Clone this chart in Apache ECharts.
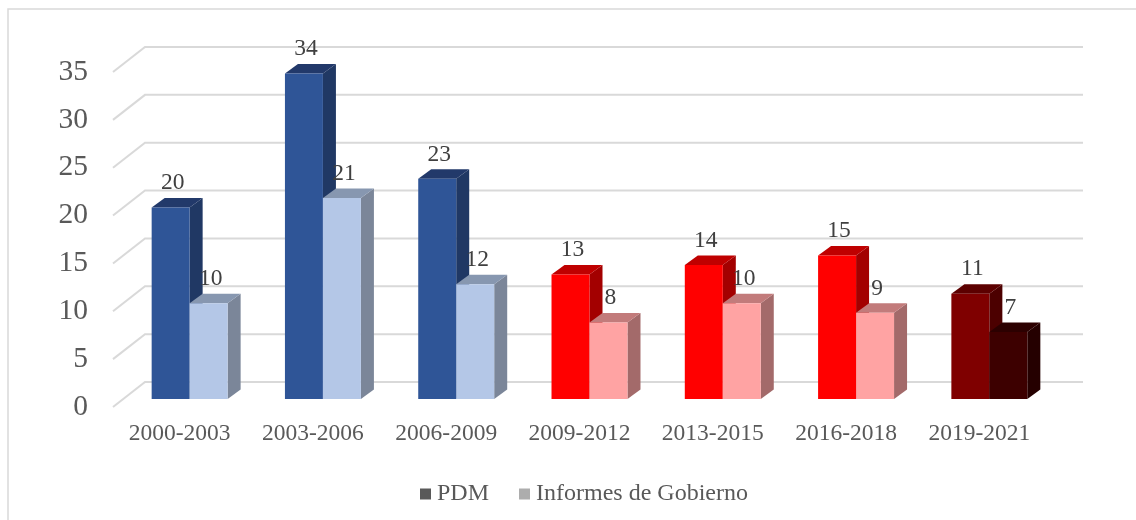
<!DOCTYPE html>
<html>
<head>
<meta charset="utf-8">
<script src="https://cdn.jsdelivr.net/npm/echarts@6/dist/echarts.min.js"></script>
<style>
  html, body { margin: 0; padding: 0; background: #fff; }
  #chart { width: 1136px; height: 520px; }
</style>
</head>
<body>
<div id="chart"></div>
<script>
// datos
const periods = ['2000-2003', '2003-2006', '2006-2009', '2009-2012', '2013-2015', '2016-2018', '2019-2021']
const pdm = [20, 34, 23, 13, 14, 15, 11]
const informes = [10, 21, 12, 8, 10, 9, 7]
const yTicks = [0, 5, 10, 15, 20, 25, 30, 35]

// colores por barra: [frente, lado, arriba]
const blue = ['#2F5597', '#203864', '#22396A']
const lightBlue = ['#B4C7E7', '#7B8699', '#8797B0']
const red = ['#FF0000', '#A30000', '#BF0000']
const pink = ['#FFA3A3', '#A36A6A', '#C27B7B']
const darkRed = ['#7F0000', '#4C0000', '#5C0000']
const darkest = ['#3D0000', '#250000', '#2C0000']
const pdmColors = [blue, blue, blue, red, red, red, darkRed]
const infColors = [lightBlue, lightBlue, lightBlue, pink, pink, pink, darkest]

const FONT = '"Liberation Serif", "Times New Roman", serif'
const SHIFT_X = 10   // plano de las barras respecto al frente
const SHIFT_Y = -8
const DX = 13        // profundidad de la barra
const DY = -9.5

// barra 3d: frente + lado + tapa + etiqueta
function makeBar(colors, isSecond) {
  return function (params, api) {
    const i = api.value(0)
    const v = api.value(1)
    const base = api.coord([i, 0])
    const top = api.coord([i, v])
    const bw = api.size([1, 0])[0] * 0.285
    const x0 = base[0] + SHIFT_X - (isSecond ? 0 : bw)
    const yb = base[1] + SHIFT_Y
    const yt = top[1] + SHIFT_Y
    const c = colors[params.dataIndex]
    return {
      type: 'group',
      children: [
        {
          type: 'polygon',
          shape: { points: [[x0 + bw, yt], [x0 + bw + DX, yt + DY], [x0 + bw + DX, yb + DY], [x0 + bw, yb]] },
          style: { fill: c[1] }
        },
        {
          type: 'polygon',
          shape: { points: [[x0, yt], [x0 + DX, yt + DY], [x0 + bw + DX, yt + DY], [x0 + bw, yt]] },
          style: { fill: c[2] }
        },
        {
          type: 'rect',
          shape: { x: x0, y: yt, width: bw, height: yb - yt },
          style: { fill: c[0] }
        },
        {
          type: 'text',
          x: x0 + bw / 2 + 2,
          y: yt + DY - 3,
          style: {
            text: String(v),
            fill: '#404040',
            font: '23.5px ' + FONT,
            align: 'center',
            verticalAlign: 'bottom'
          }
        }
      ]
    }
  }
}

// pared del fondo con lineas de division
function renderWall(params, api) {
  const cs = params.coordSys
  const y = api.coord([0, api.value(1)])[1]
  return {
    type: 'polyline',
    shape: { points: [[cs.x, y], [cs.x + 32, y - 25], [cs.x + cs.width + 37, y - 25]] },
    style: { stroke: '#D9D9D9', lineWidth: 2, fill: null }
  }
}

const chart = echarts.init(document.getElementById('chart'))
chart.setOption({
  animation: false,
  backgroundColor: '#fff',
  graphic: [{
    type: 'rect',
    shape: { x: 8, y: 9, width: 1150, height: 540 },
    style: { fill: null, stroke: '#D9D9D9', lineWidth: 1.5 },
    silent: true
  }],
  grid: { left: 113, top: 72, width: 933, height: 335 },
  legend: {
    data: ['PDM', 'Informes de Gobierno'],
    top: 477,
    left: 415,
    icon: 'rect',
    itemWidth: 11,
    itemHeight: 11,
    itemGap: 30,
    textStyle: { fontSize: 24, color: '#595959', fontFamily: FONT, padding: [0, 0, 0, 1] }
  },
  xAxis: {
    type: 'category',
    data: periods,
    axisLine: { show: false },
    axisTick: { show: false },
    splitLine: { show: false },
    axisLabel: { fontSize: 23.5, color: '#595959', fontFamily: FONT, margin: 15 }
  },
  yAxis: {
    type: 'value',
    min: 0,
    max: 35,
    interval: 5,
    axisLine: { show: false },
    axisTick: { show: false },
    splitLine: { show: false },
    axisLabel: { fontSize: 29.5, color: '#595959', fontFamily: FONT, margin: 25 }
  },
  series: [
    {
      name: 'wall',
      type: 'custom',
      silent: true,
      z: 1,
      renderItem: renderWall,
      data: yTicks.map(t => [0, t]),
      encode: { x: 0, y: 1 }
    },
    {
      name: 'PDM',
      type: 'custom',
      z: 2,
      itemStyle: { color: '#595959' },
      renderItem: makeBar(pdmColors, false),
      data: pdm.map((v, i) => [i, v]),
      encode: { x: 0, y: 1 }
    },
    {
      name: 'Informes de Gobierno',
      type: 'custom',
      z: 3,
      itemStyle: { color: '#ADADAD' },
      renderItem: makeBar(infColors, true),
      data: informes.map((v, i) => [i, v]),
      encode: { x: 0, y: 1 }
    }
  ]
})
</script>
</body>
</html>
